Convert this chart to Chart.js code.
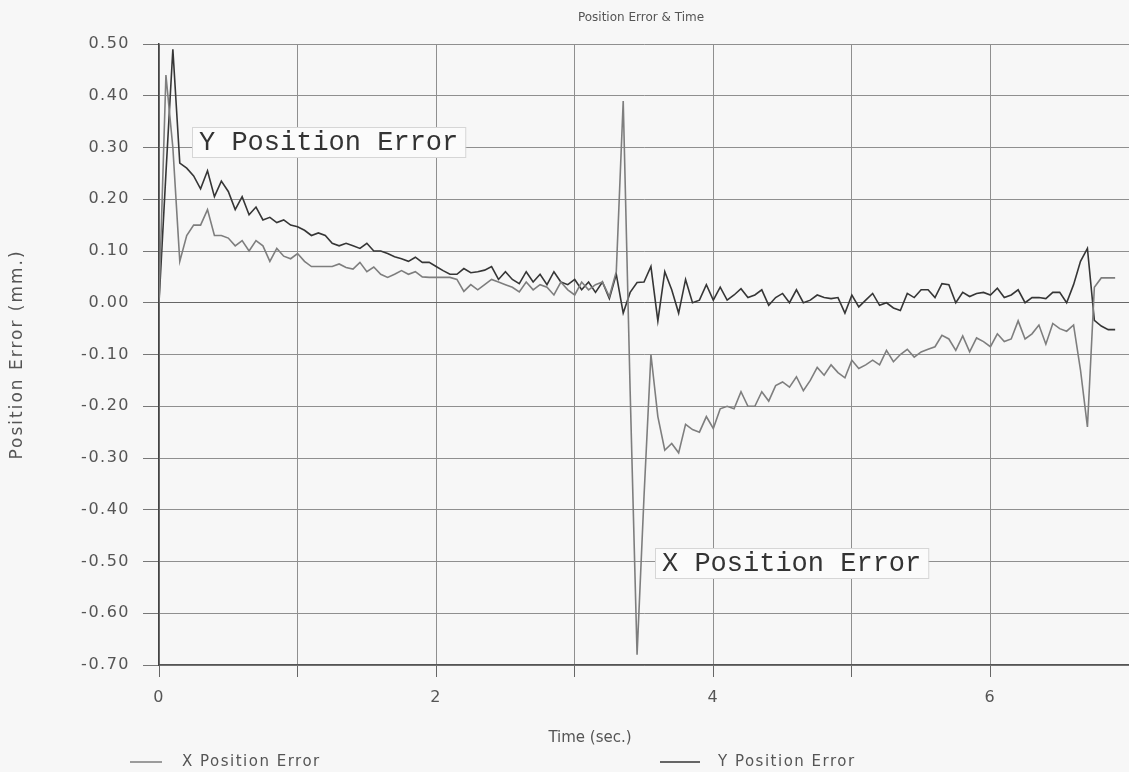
<!DOCTYPE html>
<html>
<head>
<meta charset="utf-8">
<script src="https://cdn.jsdelivr.net/npm/chart.js@4/dist/chart.umd.min.js"></script>
<style>
  html, body { margin: 0; padding: 0; background: #f7f7f7; }
  #wrap { position: relative; width: 1129px; height: 772px; }
</style>
</head>
<body>
<div id="wrap"><canvas id="chart" width="1129" height="772"></canvas></div>
<script>
// sample times (sec.)
const times = [
  0, 0.05, 0.1, 0.15, 0.2, 0.25, 0.3, 0.35, 0.4, 0.45, 0.5, 0.55, 0.6, 0.65, 0.7, 0.75, 0.8, 0.85, 0.9, 0.95,
  1, 1.05, 1.1, 1.15, 1.2, 1.25, 1.3, 1.35, 1.4, 1.45, 1.5, 1.55, 1.6, 1.65, 1.7, 1.75, 1.8, 1.85, 1.9, 1.95,
  2, 2.05, 2.1, 2.15, 2.2, 2.25, 2.3, 2.35, 2.4, 2.45, 2.5, 2.55, 2.6, 2.65, 2.7, 2.75, 2.8, 2.85, 2.9, 2.95,
  3, 3.05, 3.1, 3.15, 3.2, 3.25, 3.3, 3.35, 3.4, 3.45, 3.5, 3.55, 3.6, 3.65, 3.7, 3.75, 3.8, 3.85, 3.9, 3.95,
  4, 4.05, 4.1, 4.15, 4.2, 4.25, 4.3, 4.35, 4.4, 4.45, 4.5, 4.55, 4.6, 4.65, 4.7, 4.75, 4.8, 4.85, 4.9, 4.95,
  5, 5.05, 5.1, 5.15, 5.2, 5.25, 5.3, 5.35, 5.4, 5.45, 5.5, 5.55, 5.6, 5.65, 5.7, 5.75, 5.8, 5.85, 5.9, 5.95,
  6, 6.05, 6.1, 6.15, 6.2, 6.25, 6.3, 6.35, 6.4, 6.45, 6.5, 6.55, 6.6, 6.65, 6.7, 6.75, 6.8, 6.85, 6.9
];

// X position error (mm.)
const xError = [
  0, 0.44, 0.3, 0.08, 0.13, 0.15, 0.15, 0.18, 0.13, 0.13, 0.125, 0.11, 0.12, 0.1, 0.12, 0.11, 0.08, 0.105, 0.09, 0.085,
  0.095, 0.08, 0.07, 0.07, 0.07, 0.07, 0.075, 0.068, 0.065, 0.078, 0.06, 0.069, 0.055, 0.049, 0.055, 0.062, 0.055, 0.06, 0.05, 0.049,
  0.049, 0.049, 0.049, 0.045, 0.022, 0.035, 0.025, 0.035, 0.045, 0.04, 0.035, 0.03, 0.021, 0.04, 0.025, 0.035, 0.03, 0.015, 0.04, 0.025,
  0.015, 0.04, 0.025, 0.035, 0.04, 0.012, 0.06, 0.39, -0.17, -0.68, -0.375, -0.1, -0.22, -0.285, -0.272, -0.29, -0.235, -0.245, -0.25, -0.22,
  -0.243, -0.205, -0.2, -0.205, -0.172, -0.2, -0.2, -0.172, -0.19, -0.16, -0.153, -0.163, -0.143, -0.17, -0.15, -0.125, -0.14, -0.12, -0.135, -0.145,
  -0.111, -0.127, -0.12, -0.111, -0.12, -0.092, -0.114, -0.1, -0.09, -0.105, -0.095, -0.09, -0.085, -0.063, -0.07, -0.092, -0.064, -0.095, -0.068, -0.075,
  -0.085, -0.06, -0.075, -0.07, -0.035, -0.07, -0.06, -0.043, -0.08, -0.04, -0.05, -0.055, -0.043, -0.13, -0.24, 0.03, 0.048, 0.048, 0.048
];

// Y position error (mm.)
const yError = [
  0, 0.25, 0.49, 0.27, 0.26, 0.245, 0.22, 0.255, 0.205, 0.235, 0.215, 0.18, 0.205, 0.17, 0.185, 0.16, 0.165, 0.155, 0.16, 0.15,
  0.147, 0.14, 0.13, 0.135, 0.13, 0.115, 0.11, 0.115, 0.11, 0.105, 0.115, 0.1, 0.1, 0.095, 0.089, 0.085, 0.08, 0.088, 0.078, 0.078,
  0.07, 0.062, 0.055, 0.055, 0.066, 0.058, 0.06, 0.063, 0.07, 0.045, 0.06, 0.045, 0.037, 0.06, 0.04, 0.055, 0.035, 0.06, 0.04, 0.035,
  0.045, 0.025, 0.04, 0.02, 0.04, 0.008, 0.055, -0.02, 0.02, 0.039, 0.04, 0.07, -0.035, 0.06, 0.025, -0.02, 0.045, 0, 0.005, 0.035,
  0.005, 0.03, 0.005, 0.015, 0.027, 0.01, 0.015, 0.025, -0.005, 0.01, 0.018, 0, 0.025, 0, 0.005, 0.015, 0.01, 0.008, 0.01, -0.02,
  0.015, -0.008, 0.005, 0.018, -0.005, 0, -0.01, -0.015, 0.018, 0.01, 0.025, 0.025, 0.01, 0.037, 0.035, 0, 0.02, 0.012, 0.018, 0.02,
  0.015, 0.028, 0.01, 0.015, 0.025, 0, 0.01, 0.01, 0.008, 0.02, 0.02, 0, 0.035, 0.08, 0.105, -0.034, -0.045, -0.052, -0.052
];

const seriesNames = ['X Position Error', 'Y Position Error'];
const seriesColors = ['#7e7e7e', '#363636'];
const xLabelled = [0, 2, 4, 6];

const chartTitle = 'Position Error & Time';
const xTitle = 'Time (sec.)';
const yTitle = 'Position Error (mm.)';

// boxed labels inside the plot, anchored at (time, error) of their top-left corner
const boxLabels = [
  { text: 'Y Position Error', t: 0.24, v: 0.34 },
  { text: 'X Position Error', t: 3.58, v: -0.474 }
];

const toPoints = vals => times.map((t, i) => ({ x: t, y: vals[i] }));

const paperText = {
  id: 'paperText',
  beforeDraw(chart) {
    chart.ctx.letterSpacing = '1.5px';
  },
  afterDraw(chart) {
    const { ctx } = chart;
    const sx = chart.scales.x, sy = chart.scales.y;
    ctx.save();
    ctx.fillStyle = '#555';
    ctx.textBaseline = 'middle';

    // title
    ctx.letterSpacing = '0px';
    ctx.textAlign = 'center';
    ctx.font = '12px "DejaVu Sans"';
    ctx.fillText(chartTitle, 641, 18);

    // x axis title
    ctx.font = '15px "DejaVu Sans"';
    ctx.fillText(xTitle, 590, 738);

    // y axis title
    ctx.save();
    ctx.translate(18, (chart.chartArea.top + chart.chartArea.bottom) / 2);
    ctx.rotate(-Math.PI / 2);
    ctx.letterSpacing = '2px';
    ctx.font = '17px "DejaVu Sans"';
    ctx.fillText(yTitle, 0, 0);
    ctx.restore();

    // legend
    const legendPos = [{ x0: 130, x1: 162, tx: 182 }, { x0: 660, x1: 700, tx: 718 }];
    ctx.letterSpacing = '1.5px';
    ctx.font = '15px "DejaVu Sans"';
    ctx.textAlign = 'left';
    legendPos.forEach((p, i) => {
      ctx.strokeStyle = seriesColors[i];
      ctx.lineWidth = 1.5;
      ctx.beginPath();
      ctx.moveTo(p.x0, 762);
      ctx.lineTo(p.x1, 762);
      ctx.stroke();
      ctx.fillStyle = '#555';
      ctx.fillText(seriesNames[i], p.tx, 762);
    });

    // boxed labels
    ctx.letterSpacing = '0px';
    ctx.font = '27px "Liberation Mono"';
    boxLabels.forEach(b => {
      const left = Math.round(sx.getPixelForValue(b.t));
      const top = Math.round(sy.getPixelForValue(b.v));
      const w = ctx.measureText(b.text).width + 14;
      ctx.fillStyle = '#fbfbfb';
      ctx.fillRect(left, top, w, 30);
      ctx.strokeStyle = '#d6d6d6';
      ctx.lineWidth = 1;
      ctx.strokeRect(left + 0.5, top + 0.5, w, 30);
      ctx.fillStyle = '#333';
      ctx.fillText(b.text, left + 7, top + 16);
    });
    ctx.restore();
  }
};

new Chart(document.getElementById('chart'), {
  type: 'line',
  data: {
    datasets: [
      {
        label: seriesNames[0],
        data: toPoints(xError),
        borderColor: seriesColors[0],
        borderWidth: 1.6,
        pointRadius: 0,
        tension: 0,
        fill: false
      },
      {
        label: seriesNames[1],
        data: toPoints(yError),
        borderColor: seriesColors[1],
        borderWidth: 1.6,
        pointRadius: 0,
        tension: 0,
        fill: false
      }
    ]
  },
  options: {
    responsive: false,
    animation: false,
    layout: { padding: { top: 44, right: 0, bottom: 0, left: 0 } },
    plugins: {
      legend: { display: false },
      title: { display: false },
      tooltip: { enabled: false }
    },
    scales: {
      x: {
        type: 'linear',
        min: 0,
        max: 7,
        afterFit: s => { s.height = 107; s.paddingRight = 0; },
        grid: { color: '#8f8f8f', lineWidth: 1, tickLength: 12, tickColor: '#666' },
        border: { color: '#555', width: 1.5 },
        ticks: {
          stepSize: 1,
          autoSkip: false,
          maxRotation: 0,
          padding: 11,
          color: '#555',
          font: { family: 'DejaVu Sans', size: 16 },
          callback: v => xLabelled.includes(v) ? String(v) : ''
        }
      },
      y: {
        min: -0.7,
        max: 0.5,
        afterFit: s => { s.width = 159; },
        grid: {
          color: ctx => Math.abs(ctx.tick.value) < 1e-9 ? '#666' : '#8f8f8f',
          lineWidth: 1,
          tickLength: 16,
          tickColor: '#777'
        },
        border: { color: '#444', width: 1.5 },
        ticks: {
          stepSize: 0.1,
          padding: 13,
          color: '#555',
          font: { family: 'DejaVu Sans', size: 16 },
          callback: v => Math.abs(v) < 1e-9 ? '0.00' : v.toFixed(2)
        }
      }
    }
  },
  plugins: [paperText]
});
</script>
</body>
</html>
